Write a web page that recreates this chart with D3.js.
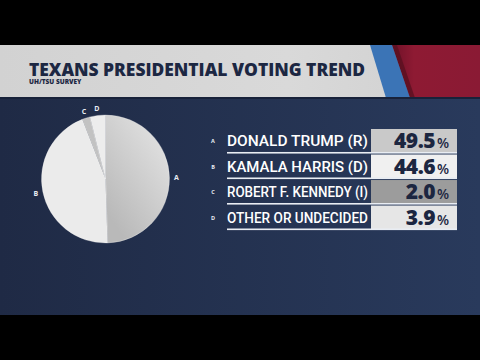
<!DOCTYPE html>
<html>
<head>
<meta charset="utf-8">
<script src="https://cdn.jsdelivr.net/npm/d3@7"></script>
<style>
  html, body { margin: 0; padding: 0; background: #000; }
  svg { display: block; }
</style>
</head>
<body>
<div class="chart"></div>
<script>
// poll data
var letters = ["A", "B", "C", "D"];
var names = ["DONALD TRUMP (R)", "KAMALA HARRIS (D)", "ROBERT F. KENNEDY (I)", "OTHER OR UNDECIDED"];
var values = [49.5, 44.6, 2.0, 3.9];
var sliceColors = ["url(#gradA)", "#ebebeb", "#c2c2c2", "#ededed"];
var boxColors = ["#c9c9c9", "#f0f0f0", "#9c9c9c", "#e6e6e6"];

var width = 480, height = 360;
var navy = "#1c2742";

var svg = d3.select(".chart").append("svg")
    .attr("width", width)
    .attr("height", height);

var defs = svg.append("defs");

var bg = defs.append("linearGradient").attr("id", "bgGrad")
    .attr("x1", 0).attr("y1", 0).attr("x2", 1).attr("y2", 0);
bg.append("stop").attr("offset", 0).attr("stop-color", "#1f2a45");
bg.append("stop").attr("offset", 1).attr("stop-color", "#293a5c");

var hg = defs.append("linearGradient").attr("id", "headGrad")
    .attr("x1", 0).attr("y1", 0).attr("x2", 1).attr("y2", 0);
hg.append("stop").attr("offset", 0).attr("stop-color", "#d2d2d2");
hg.append("stop").attr("offset", 0.6).attr("stop-color", "#d9d9d9");
hg.append("stop").attr("offset", 1).attr("stop-color", "#cfcfcf");

var rg = defs.append("linearGradient").attr("id", "redGrad")
    .attr("x1", 0).attr("y1", 0).attr("x2", 1).attr("y2", 0);
rg.append("stop").attr("offset", 0).attr("stop-color", "#6f1128");
rg.append("stop").attr("offset", 0.25).attr("stop-color", "#8e1a33");
rg.append("stop").attr("offset", 1).attr("stop-color", "#8a1a34");

var ga = defs.append("linearGradient").attr("id", "gradA")
    .attr("x1", 0.8).attr("y1", 0.1).attr("x2", 0.2).attr("y2", 0.9);
ga.append("stop").attr("offset", 0).attr("stop-color", "#e0e0e0");
ga.append("stop").attr("offset", 1).attr("stop-color", "#b9b9b9");

// letterbox + panels
svg.append("rect").attr("width", width).attr("height", height).attr("fill", "#000");
svg.append("rect").attr("x", 0).attr("y", 45).attr("width", width).attr("height", 270)
    .attr("fill", "url(#bgGrad)");

// header band
svg.append("rect").attr("x", 0).attr("y", 45).attr("width", width).attr("height", 53)
    .attr("fill", "url(#headGrad)");
svg.append("polygon").attr("points", "392,45 480,45 480,98 410,98").attr("fill", "url(#redGrad)");
svg.append("polygon").attr("points", "389,45 397,45 415,98 407,98").attr("fill", "#5a1020").attr("opacity", 0.8);
svg.append("polygon").attr("points", "370,45 392,45 410,98 386,98").attr("fill", "#3b74b6");
svg.append("rect").attr("x", 0).attr("y", 97).attr("width", width).attr("height", 2)
    .attr("fill", "#18223a");

svg.append("text")
    .attr("x", 29).attr("y", 76)
    .attr("font-family", "'Open Sans', sans-serif")
    .attr("font-weight", 800)
    .attr("font-size", 18)
    .attr("fill", navy)
    .attr("textLength", 336)
    .attr("lengthAdjust", "spacingAndGlyphs")
    .text("TEXANS PRESIDENTIAL VOTING TREND");

svg.append("text")
    .attr("x", 29).attr("y", 83.5)
    .attr("font-family", "'Open Sans', sans-serif")
    .attr("font-weight", 800)
    .attr("font-size", 6.5)
    .attr("fill", navy)
    .text("UH/TSU SURVEY");

// pie
var cx = 105.5, cy = 179, radius = 64;
var pie = d3.pie().sort(null).value(function(d) { return d; });
var arc = d3.arc().innerRadius(0).outerRadius(radius);
var labelArc = d3.arc().innerRadius(radius + 7).outerRadius(radius + 7);
var arcs = pie(values);

var pieG = svg.append("g").attr("transform", "translate(" + cx + "," + cy + ")");
pieG.selectAll("path.slice")
    .data(arcs)
  .enter().append("path")
    .attr("class", "slice")
    .attr("d", arc)
    .attr("fill", function(d, i) { return sliceColors[i]; })
    .attr("stroke", "#f4f4f4")
    .attr("stroke-width", 0.3);

pieG.selectAll("text.plabel")
    .data(arcs)
  .enter().append("text")
    .attr("class", "plabel")
    .attr("transform", function(d) { return "translate(" + labelArc.centroid(d) + ")"; })
    .attr("text-anchor", "middle")
    .attr("dy", "0.35em")
    .attr("font-family", "'Open Sans', sans-serif")
    .attr("font-weight", 700)
    .attr("font-size", 7)
    .attr("fill", "#e8ecf2")
    .text(function(d, i) { return letters[i]; });

// legend table
var rowY = d3.scaleBand().domain(letters).range([129, 229]).paddingInner(0.08);
var rows = svg.selectAll("g.row")
    .data(letters)
  .enter().append("g")
    .attr("class", "row")
    .attr("transform", function(d) { return "translate(0," + rowY(d) + ")"; });

var bh = rowY.bandwidth();

rows.append("rect")
    .attr("x", 371).attr("y", 0)
    .attr("width", 86).attr("height", bh)
    .attr("fill", function(d, i) { return boxColors[i]; });

rows.append("rect")
    .attr("x", 227).attr("y", bh - 0.5)
    .attr("width", 230).attr("height", 1.6)
    .attr("fill", "#e9edf3");

rows.append("text")
    .attr("x", 213).attr("y", bh / 2 + 2.5)
    .attr("text-anchor", "middle")
    .attr("font-family", "'Open Sans', sans-serif")
    .attr("font-weight", 700)
    .attr("font-size", 5.5)
    .attr("fill", "#e8ecf2")
    .text(function(d) { return d; });

rows.append("text")
    .attr("x", 227).attr("y", bh / 2 + 5.5)
    .attr("font-family", "Roboto, sans-serif")
    .attr("font-weight", 500)
    .attr("font-size", 15.5)
    .attr("fill", "#ffffff")
    .attr("textLength", 141)
    .attr("lengthAdjust", "spacingAndGlyphs")
    .text(function(d, i) { return names[i]; });

var fmt = d3.format(".1f");
rows.append("text")
    .attr("x", 435).attr("y", bh / 2 + 7.5)
    .attr("text-anchor", "end")
    .attr("font-family", "'Open Sans', sans-serif")
    .attr("font-weight", 800)
    .attr("font-size", 21)
    .attr("letter-spacing", -0.5)
    .attr("fill", "#1c2640")
    .text(function(d, i) { return fmt(values[i]); });

rows.append("text")
    .attr("x", 437).attr("y", bh / 2 + 7.5)
    .attr("font-family", "'Open Sans', sans-serif")
    .attr("font-weight", 600)
    .attr("font-size", 14)
    .attr("fill", "#1c2640")
    .text("%");
</script>
</body>
</html>
